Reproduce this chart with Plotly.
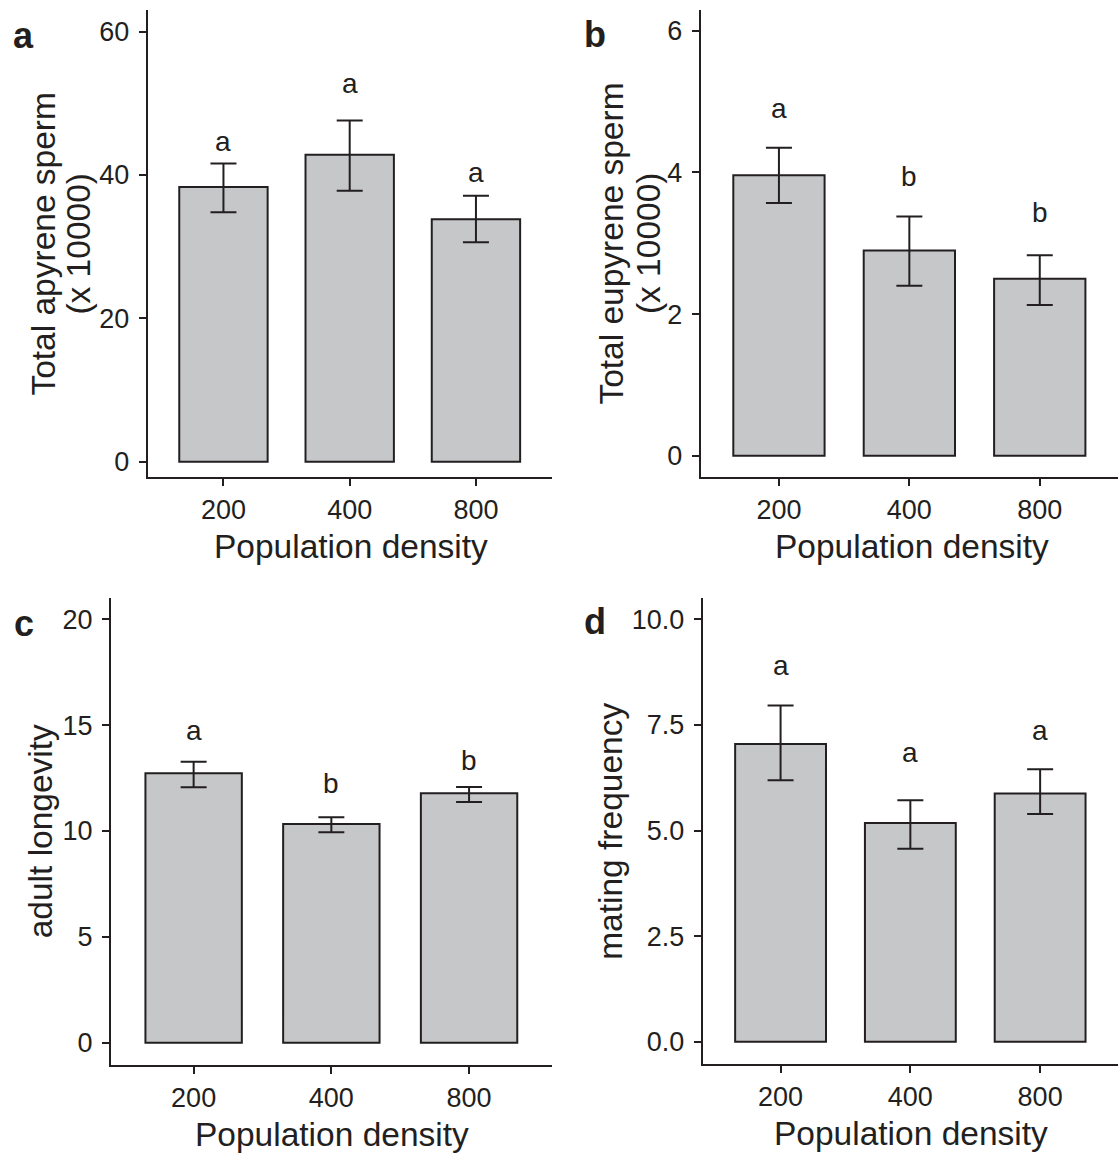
import plotly.graph_objects as go

# ---------------- data ----------------
densities = ["200", "400", "800"]

apyrene_mean = [38.3, 42.8, 33.8]
apyrene_err_plus = [3.3, 4.8, 3.3]
apyrene_err_minus = [3.5, 5.0, 3.2]
apyrene_letters = ["a", "a", "a"]
apyrene_letter_y = [44.4, 52.5, 40.1]

eupyrene_mean = [3.96, 2.90, 2.50]
eupyrene_err_plus = [0.39, 0.48, 0.33]
eupyrene_err_minus = [0.39, 0.50, 0.37]
eupyrene_letters = ["a", "b", "b"]
eupyrene_letter_y = [4.88, 3.92, 3.40]

longevity_mean = [12.73, 10.33, 11.78]
longevity_err_plus = [0.54, 0.32, 0.30]
longevity_err_minus = [0.67, 0.39, 0.41]
longevity_letters = ["a", "b", "b"]
longevity_letter_y = [14.66, 12.13, 13.23]

mating_mean = [7.05, 5.18, 5.88]
mating_err_plus = [0.91, 0.54, 0.57]
mating_err_minus = [0.86, 0.61, 0.49]
mating_letters = ["a", "a", "a"]
mating_letter_y = [8.87, 6.80, 7.32]

y_ticks_a = [0, 20, 40, 60]
y_ticks_b = [0, 2, 4, 6]
y_ticks_c = [0, 5, 10, 15, 20]
y_ticks_d = [0, 2.5, 5.0, 7.5, 10.0]

x_title = "Population density"
y_title_a = ["Total apyrene sperm", "(x 10000)"]
y_title_b = ["Total eupyrene sperm", "(x 10000)"]
y_title_c = "adult longevity"
y_title_d = "mating frequency"
panel_tags = ["a", "b", "c", "d"]

# ---------------- layout constants ----------------
W, H = 1118, 1154
FONT = "Liberation Sans, Arial, sans-serif"
INK = "#231f20"
BAR_FILL = "#c6c7c9"


def px(x):
    return x / W


def py(y):
    return 1 - y / H


panels = [
    dict(mean=apyrene_mean, ep=apyrene_err_plus, em=apyrene_err_minus,
         letters=apyrene_letters, ly=apyrene_letter_y, ticks=y_ticks_a,
         fmt="d", xdom=(147.7, 551.7), ydom=(10, 477.3), yr=(-2.18, 63.0)),
    dict(mean=eupyrene_mean, ep=eupyrene_err_plus, em=eupyrene_err_minus,
         letters=eupyrene_letters, ly=eupyrene_letter_y, ticks=y_ticks_b,
         fmt="d", xdom=(700.7, 1118), ydom=(10, 477.3), yr=(-0.305, 6.295)),
    dict(mean=longevity_mean, ep=longevity_err_plus, em=longevity_err_minus,
         letters=longevity_letters, ly=longevity_letter_y, ticks=y_ticks_c,
         fmt="d", xdom=(111, 551.7), ydom=(598.3, 1065.3), yr=(-1.07, 20.99)),
    dict(mean=mating_mean, ep=mating_err_plus, em=mating_err_minus,
         letters=mating_letters, ly=mating_letter_y, ticks=y_ticks_d,
         fmt=".1f", xdom=(702.7, 1118), ydom=(598.3, 1064.3), yr=(-0.534, 10.5)),
]

fig = go.Figure()
annotations = []

for i, p in enumerate(panels, start=1):
    sfx = "" if i == 1 else str(i)
    fig.add_trace(go.Bar(
        x=densities, y=p["mean"], width=0.7,
        marker=dict(color=BAR_FILL, line=dict(color=INK, width=2)),
        error_y=dict(type="data", symmetric=False, array=p["ep"],
                     arrayminus=p["em"], color=INK, thickness=2, width=13),
        xaxis="x" + sfx, yaxis="y" + sfx, showlegend=False,
        hoverinfo="skip",
    ))
    common = dict(showline=True, linecolor=INK, linewidth=2, ticks="outside",
                  ticklen=7, tickwidth=1.8, tickcolor=INK, showgrid=False,
                  zeroline=False,
                  tickfont=dict(family=FONT, size=27, color=INK))
    fig.update_layout(**{
        "xaxis" + sfx: dict(domain=[px(p["xdom"][0]), px(p["xdom"][1])],
                            anchor="y" + sfx, type="category",
                            range=[-0.6, 2.6], ticklabelstandoff=0, **common),
        "yaxis" + sfx: dict(domain=[py(p["ydom"][1]), py(p["ydom"][0])],
                            anchor="x" + sfx, range=list(p["yr"]),
                            tickvals=p["ticks"], tickformat=p["fmt"],
                            ticklabelstandoff=4, **common),
    })
    for k, (lab, ly) in enumerate(zip(p["letters"], p["ly"])):
        annotations.append(dict(x=k, y=ly, xref="x" + sfx, yref="y" + sfx,
                                text=lab, showarrow=False, yshift=2,
                                xanchor="center", yanchor="middle",
                                font=dict(family=FONT, size=28, color=INK)))

# x titles
for (xc, yc) in [(351, 546.9), (912, 546.9), (331.5, 1134.3), (911, 1133.6)]:
    annotations.append(dict(x=px(xc), y=py(yc), xref="paper", yref="paper",
                            text=x_title, showarrow=False, xanchor="center",
                            yanchor="middle",
                            font=dict(family=FONT, size=33.5, color=INK)))

# y titles
ytitles = [
    (y_title_a[0], 44, 243.6), (y_title_a[1], 79, 243.6),
    (y_title_b[0], 612, 243.6), (y_title_b[1], 648.5, 243.6),
    (y_title_c, 40.5, 831.8), (y_title_d, 610.5, 831.3),
]
for t, xc, yc in ytitles:
    annotations.append(dict(x=px(xc), y=py(yc), xref="paper", yref="paper",
                            text=t, showarrow=False, textangle=-90,
                            xanchor="center", yanchor="middle",
                            font=dict(family=FONT, size=33.5, color=INK)))

# panel tags
for tag, xl, yc in zip(panel_tags, [11, 582, 12, 582], [36, 35, 623, 621]):
    annotations.append(dict(x=px(xl), y=py(yc), xref="paper", yref="paper",
                            text="<b>%s</b>" % tag, showarrow=False,
                            xanchor="left", yanchor="middle",
                            font=dict(family=FONT, size=36, color=INK)))

fig.update_layout(width=W, height=H, margin=dict(l=0, r=0, t=0, b=0),
                  paper_bgcolor="white", plot_bgcolor="white",
                  annotations=annotations, bargap=0.3, hovermode=False)

fig.write_html("out.html", config={"displayModeBar": False},
               post_script="document.body.style.margin='0';"
                           "document.body.style.overflow='hidden';")
